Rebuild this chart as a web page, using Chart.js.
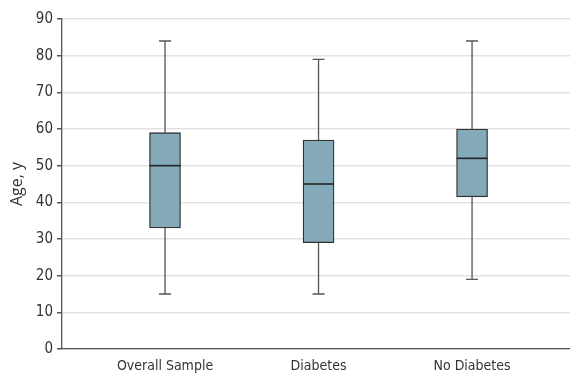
<!DOCTYPE html>
<html>
<head>
<meta charset="utf-8">
<script src="https://cdn.jsdelivr.net/npm/chart.js@4/dist/chart.umd.min.js"></script>
<style>
  html, body { margin: 0; padding: 0; background: #fff; }
  #wrap { width: 570px; height: 373px; position: relative; }
</style>
</head>
<body>
<div id="wrap"><canvas id="chart"></canvas></div>
<script>
const groups   = ['Overall Sample', 'Diabetes', 'No Diabetes'];
const whiskLo  = [15, 15, 19];
const q1       = [33, 29, 41.5];
const median   = [50, 45, 52];
const q3       = [59, 57, 60];
const whiskHi  = [84, 79, 84];
const yTicks   = [0, 10, 20, 30, 40, 50, 60, 70, 80, 90];

const fontFamily = '"Liberation Sans Narrow", "DejaVu Sans Condensed", sans-serif';

// whiskers + median lines, drawn from the scales
const boxExtras = {
  id: 'boxExtras',
  afterDatasetsDraw(chart) {
    const { ctx, scales: { x, y } } = chart;
    ctx.save();
    groups.forEach((g, i) => {
      const cx = x.getPixelForValue(i);
      const half = 15.5, cap = 6;
      ctx.strokeStyle = '#555';
      ctx.lineWidth = 1.3;
      ctx.beginPath();
      ctx.moveTo(cx, y.getPixelForValue(q3[i]));
      ctx.lineTo(cx, y.getPixelForValue(whiskHi[i]));
      ctx.moveTo(cx - cap, y.getPixelForValue(whiskHi[i]));
      ctx.lineTo(cx + cap, y.getPixelForValue(whiskHi[i]));
      ctx.moveTo(cx, y.getPixelForValue(q1[i]));
      ctx.lineTo(cx, y.getPixelForValue(whiskLo[i]));
      ctx.moveTo(cx - cap, y.getPixelForValue(whiskLo[i]));
      ctx.lineTo(cx + cap, y.getPixelForValue(whiskLo[i]));
      ctx.stroke();
      ctx.strokeStyle = '#222';
      ctx.lineWidth = 1.6;
      ctx.beginPath();
      ctx.moveTo(cx - half, y.getPixelForValue(median[i]));
      ctx.lineTo(cx + half, y.getPixelForValue(median[i]));
      ctx.stroke();
    });
    ctx.restore();
  }
};

new Chart(document.getElementById('chart'), {
  type: 'bar',
  data: {
    datasets: [{
      data: groups.map((g, i) => ({ x: i, y: [q1[i], q3[i]] })),
      backgroundColor: '#84a9b8',
      borderColor: '#333',
      borderWidth: 1.3,
      borderSkipped: false,
      barThickness: 31,
    }],
  },
  options: {
    responsive: true,
    maintainAspectRatio: false,
    animation: false,
    layout: { padding: { top: 19, right: 0, left: 0, bottom: 0 } },
    plugins: { legend: { display: false }, tooltip: { enabled: false } },
    scales: {
      x: {
        type: 'linear',
        offset: false,
        min: -0.671,
        max: 2.638,
        afterBuildTicks: ax => { ax.ticks = groups.map((g, i) => ({ value: i })); },
        afterFit: ax => { ax.height = 24; },
        grid: { display: false },
        border: { color: '#555', width: 1.3 },
        ticks: {
          font: { family: fontFamily, size: 14 },
          color: '#333',
          padding: 1,
          maxRotation: 0,
          callback: v => groups[v],
        },
      },
      y: {
        min: 0,
        max: 90,
        afterBuildTicks: ax => { ax.ticks = yTicks.map(v => ({ value: v })); },
        afterFit: ax => { ax.width = 62; },
        grid: { color: '#e2e2e2', lineWidth: 1.5, tickColor: '#555', tickLength: 5 },
        border: { color: '#555', width: 1.3 },
        ticks: { font: { family: fontFamily, size: 15 }, color: '#333', padding: 4 },
        title: {
          display: true,
          text: 'Age, y',
          color: '#333',
          font: { family: '"Open Sans", sans-serif', size: 16 },
          padding: { top: 8, bottom: 0 },
        },
      },
    },
  },
  plugins: [boxExtras],
});
</script>
</body>
</html>
